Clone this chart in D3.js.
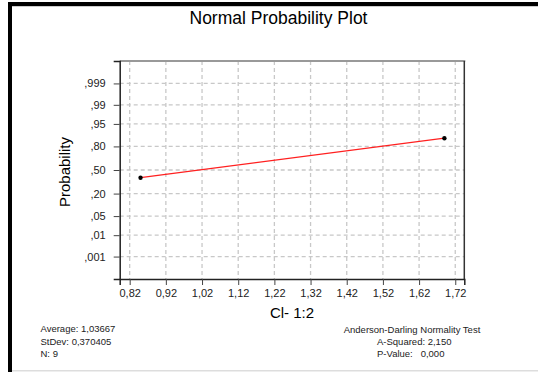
<!DOCTYPE html>
<html><head><meta charset="utf-8">
<script src="https://cdn.jsdelivr.net/npm/d3@7"></script>
<style>
html,body{margin:0;padding:0;background:#fff;}
svg{display:block;font-family:Arial,"Liberation Sans",sans-serif;}
</style></head><body>
<svg id="c" width="538" height="372"></svg>
<script>
// Data
const dataX = [0.85, 1.69];            // observed values (ties merged)
const dataP = [0.392, 0.872];          // plotting positions
const xTicks = [0.82, 0.92, 1.02, 1.12, 1.22, 1.32, 1.42, 1.52, 1.62, 1.72];
const yTicks = [0.001, 0.01, 0.05, 0.20, 0.50, 0.80, 0.95, 0.99, 0.999];
const yTickLabels = [",001", ",01", ",05", ",20", ",50", ",80", ",95", ",99", ",999"];
const statsLeft = ["Average: 1,03667", "StDev: 0,370405", "N: 9"];
const statsRightTitle = "Anderson-Darling Normality Test";
const statsRight = ["A-Squared: 2,150", "P-Value:   0,000"];

// normal quantile (Acklam)
function qnorm(p){
  const a=[-3.969683028665376e+01,2.209460984245205e+02,-2.759285104469687e+02,1.383577518672690e+02,-3.066479806614716e+01,2.506628277459239e+00];
  const b=[-5.447609879822406e+01,1.615858368580409e+02,-1.556989798598866e+02,6.680131188771972e+01,-1.328068155288572e+01];
  const c=[-7.784894002430293e-03,-3.223964580411365e-01,-2.400758277161838e+00,-2.549732539343734e+00,4.374664141464968e+00,2.938163982698783e+00];
  const d=[7.784695709041462e-03,3.224671290700398e-01,2.445134137142996e+00,3.754408661907416e+00];
  const pl=0.02425;let q,r;
  if(p<pl){q=Math.sqrt(-2*Math.log(p));return (((((c[0]*q+c[1])*q+c[2])*q+c[3])*q+c[4])*q+c[5])/((((d[0]*q+d[1])*q+d[2])*q+d[3])*q+1);}
  if(p>1-pl){q=Math.sqrt(-2*Math.log(1-p));return -(((((c[0]*q+c[1])*q+c[2])*q+c[3])*q+c[4])*q+c[5])/((((d[0]*q+d[1])*q+d[2])*q+d[3])*q+1);}
  q=p-0.5;r=q*q;return (((((a[0]*r+a[1])*r+a[2])*r+a[3])*r+a[4])*r+a[5])*q/(((((b[0]*r+b[1])*r+b[2])*r+b[3])*r+b[4])*r+1);
}

const svg = d3.select("#c");
const L=119.7, R=464.3, T=61, B=279;
const x = d3.scaleLinear().domain([0.7924, 1.745]).range([L, R]);
const zMax = qnorm(0.99995);
const yz = d3.scaleLinear().domain([-zMax, zMax]).range([B, T]);
const y = p => yz(qnorm(p));

// outer frame
svg.append("rect").attr("x",0).attr("y",0).attr("width",538).attr("height",372).attr("fill","#fff");
svg.append("rect").attr("x",8).attr("y",2).attr("width",530).attr("height",4).attr("fill","#000");
svg.append("rect").attr("x",8).attr("y",6).attr("width",530).attr("height",1).attr("fill","#ccc");
svg.append("rect").attr("x",8).attr("y",2).attr("width",4).attr("height",370).attr("fill","#000");
svg.append("rect").attr("x",12).attr("y",370).attr("width",526).attr("height",1.5).attr("fill","#ddd");

// grid
const g = svg.append("g");
g.selectAll(".gx").data(xTicks).join("line")
  .attr("x1",d=>x(d)).attr("x2",d=>x(d)).attr("y1",T).attr("y2",B)
  .attr("stroke","#c8c8c8").attr("stroke-width",1.3).attr("stroke-dasharray","4,3");
g.selectAll(".gy").data(yTicks).join("line")
  .attr("x1",L).attr("x2",R).attr("y1",d=>y(d)).attr("y2",d=>y(d))
  .attr("stroke","#c8c8c8").attr("stroke-width",1.3).attr("stroke-dasharray","4,3");

// frame
svg.append("line").attr("x1",L).attr("x2",R+1).attr("y1",T).attr("y2",T).attr("stroke","#999").attr("stroke-width",2);
svg.append("line").attr("x1",R).attr("x2",R).attr("y1",T).attr("y2",B).attr("stroke","#333").attr("stroke-width",1.5);

// axes
const xAxis = d3.axisBottom(x).tickValues(xTicks).tickSize(6).tickPadding(4)
  .tickFormat(d => d3.format(".2f")(d).replace(".", ","));
const gx = svg.append("g").attr("transform",`translate(0,${B})`).call(xAxis);
gx.select(".domain").attr("stroke","#222").attr("stroke-width",1.5);
gx.selectAll(".tick line").attr("stroke","#444");
gx.selectAll("text").attr("font-size",11).attr("fill","#222").attr("font-family","Arial, Liberation Sans, sans-serif");

const yAxis = d3.axisLeft(yz).tickValues(yTicks.map(qnorm)).tickSize(6).tickPadding(8)
  .tickFormat((d,i) => yTickLabels[i]);
const gy = svg.append("g").attr("transform",`translate(${L},0)`).call(yAxis);
gy.select(".domain").attr("stroke","#222").attr("stroke-width",1.5);
gy.selectAll(".tick line").attr("stroke","#444");
gy.selectAll("text").attr("font-size",11).attr("fill","#222").attr("font-family","Arial, Liberation Sans, sans-serif");

// line + points
const pts = dataX.map((v,i)=>({x:v,p:dataP[i]}));
svg.append("path").datum(pts)
  .attr("d", d3.line().x(d=>x(d.x)).y(d=>y(d.p)))
  .attr("fill","none").attr("stroke","#ff2020").attr("stroke-width",1.2);
svg.selectAll(".pt").data(pts).join("circle")
  .attr("cx",d=>x(d.x)).attr("cy",d=>y(d.p)).attr("r",2.2).attr("fill","#000");

// titles
svg.append("text").attr("x",278.5).attr("y",24).attr("text-anchor","middle")
  .attr("font-size",17.5).attr("fill","#000").text("Normal Probability Plot");
svg.append("text").attr("x",(L+R)/2).attr("y",318).attr("text-anchor","middle")
  .attr("font-size",15).attr("fill","#000").text("Cl- 1:2");
svg.append("text").attr("transform","translate(70,172) rotate(-90)").attr("text-anchor","middle")
  .attr("font-size",15).attr("fill","#000").text("Probability");

// stats
svg.selectAll(".sl").data(statsLeft).join("text")
  .attr("x",40.5).attr("y",(d,i)=>332+i*12.5).attr("font-size",9.5).attr("fill","#222").text(d=>d);
svg.append("text").attr("x",412).attr("y",332.5).attr("text-anchor","middle")
  .attr("font-size",9.5).attr("fill","#222").text(statsRightTitle);
svg.selectAll(".sr").data(statsRight).join("text")
  .attr("x",377).attr("y",(d,i)=>345+i*12).attr("font-size",9.5).attr("fill","#222")
  .attr("xml:space","preserve").style("white-space","pre").text(d=>d);
</script>
</body></html>
